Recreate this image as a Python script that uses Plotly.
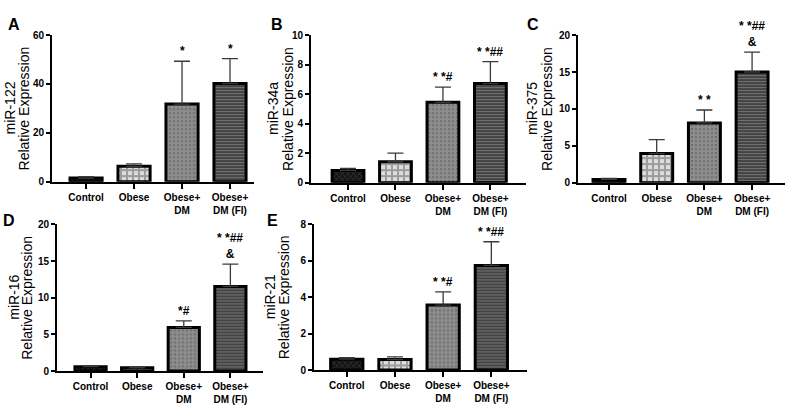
import plotly.graph_objects as go

W, H = 792, 412

groups = ["Control", "Obese", "Obese+<br>DM", "Obese+<br>DM (FI)"]

panel_letters = ["A", "B", "C", "D", "E"]
mirnas = ["miR-122", "miR-34a", "miR-375", "miR-16", "miR-21"]
y_title2 = "Relative Expression"

A_mean = [1.5, 6.3, 31.8, 40.2]
A_top = [2.1, 7.3, 49.3, 50.4]
B_mean = [0.83, 1.42, 5.45, 6.72]
B_top = [0.97, 2.0, 6.48, 8.2]
C_mean = [0.45, 3.95, 8.1, 15.0]
C_top = [0.6, 5.85, 9.85, 17.7]
D_mean = [0.6, 0.45, 5.95, 11.55]
D_top = [0.75, 0.6, 6.85, 14.6]
E_mean = [0.6, 0.58, 3.57, 5.75]
E_top = [0.68, 0.72, 4.3, 7.05]

A_sig = ["", "", "*", "*"]
B_sig = ["", "", "* *#", "* *##"]
C_sig = ["", "", "* *", "* *##<br>&"]
D_sig = ["", "", "*#", "* *##<br>&"]
E_sig = ["", "", "* *#", "* *##"]

y_max = [60, 10, 20, 20, 8]
y_dtick = [20, 2, 5, 5, 2]

means = [A_mean, B_mean, C_mean, D_mean, E_mean]
tops = [A_top, B_top, C_top, D_top, E_top]
sigs = [A_sig, B_sig, C_sig, D_sig, E_sig]

# layout (pixel geometry)
x_px = [(52, 254), (311, 526), (578, 785), (57, 263), (314, 527)]
y_px = [(30, 181), (30, 182), (30, 182), (225, 376), (225, 375)]
x_rng = [(-0.71, 3.5), (-0.78, 3.75), (-0.65, 3.69), (-0.72, 3.7), (-0.68, 3.74)]
title_x1 = [10, 273, 532, 14, 270]
title_x2 = [24, 288, 547, 27, 284]
letter_pos = [(14, 19), (277, 19), (533, 19), (9, 221), (272, 221)]

pat_shape = ["x", "+", ".", "-"]
pat_bg = ["#151515", "#dcdcdc", "#8e8e8e", "#383838"]
pat_fg = ["#505050", "#5c5c5c", "#555555", "#b0b0b0"]
pat_size = [4, 6, 4, 3]
pat_sol = [0.35, 0.55, 0.35, 0.45]

FONT = "Liberation Sans, Arial, sans-serif"

fig = go.Figure()
annotations = []
layout = {}
for i in range(5):
    sfx = "" if i == 0 else str(i + 1)
    xr = "x" + sfx
    yr = "y" + sfx
    for j in range(4):
        fig.add_trace(go.Bar(
            x=[j], y=[means[i][j]], xaxis=xr, yaxis=yr, width=0.67,
            marker=dict(color=pat_bg[j], line=dict(color="black", width=3),
                        pattern=dict(shape=pat_shape[j], fgcolor=pat_fg[j],
                                     size=pat_size[j], solidity=pat_sol[j],
                                     fillmode="overlay")),
            error_y=dict(type="data", array=[tops[i][j] - means[i][j]], arrayminus=[0],
                         symmetric=False, color="#3a3a3a", thickness=1.3, width=8),
            cliponaxis=False, showlegend=False, hoverinfo="skip",
        ))
    x0, x1 = x_px[i]
    yt, yb = y_px[i]
    layout["xaxis" + sfx] = dict(
        domain=[x0 / W, x1 / W], range=list(x_rng[i]), anchor=yr,
        tickmode="array", tickvals=[0, 1, 2, 3], ticktext=groups,
        showline=True, linecolor="black", linewidth=2, ticks="outside",
        ticklen=5, tickwidth=2, tickcolor="black", showgrid=False, zeroline=False,
        tickfont=dict(family=FONT, size=10, color="black", weight="bold"),
        fixedrange=True,
    )
    layout["yaxis" + sfx] = dict(
        domain=[1 - yb / H, 1 - yt / H], range=[0, y_max[i]], anchor=xr,
        dtick=y_dtick[i], showline=True, linecolor="black", linewidth=2,
        ticks="outside", ticklen=4, tickwidth=2, tickcolor="black",
        showgrid=False, zeroline=False,
        tickfont=dict(family=FONT, size=10, color="black", weight="bold"),
        fixedrange=True,
    )
    ymid = 1 - (yt + yb) / 2 / H
    for tx, tt in ((title_x1[i], mirnas[i]), (title_x2[i], y_title2)):
        annotations.append(dict(
            x=tx / W, y=ymid, xref="paper", yref="paper",
            text=tt, textangle=-90, showarrow=False,
            xanchor="center", yanchor="middle",
            font=dict(family=FONT, size=14, color="black"),
        ))
    lx, ly = letter_pos[i]
    annotations.append(dict(
        x=lx / W, y=1 - ly / H, xref="paper", yref="paper", text="<b>%s</b>" % panel_letters[i],
        showarrow=False, xanchor="center", yanchor="middle",
        font=dict(family=FONT, size=16, color="black"),
    ))
    for j in range(4):
        if sigs[i][j]:
            annotations.append(dict(
                x=j, y=tops[i][j], xref=xr, yref=yr, text="<b>%s</b>" % sigs[i][j],
                showarrow=False, xanchor="center", yanchor="bottom", yshift=1,
                font=dict(family=FONT, size=12, color="black"),
            ))

fig.update_layout(
    width=W, height=H, margin=dict(l=0, r=0, t=0, b=0),
    paper_bgcolor="white", plot_bgcolor="white", barmode="overlay",
    annotations=annotations, **layout,
)
fig.write_html("out.html", config={"displayModeBar": False},
               post_script="document.body.style.margin='0px';document.body.style.overflow='hidden';")
